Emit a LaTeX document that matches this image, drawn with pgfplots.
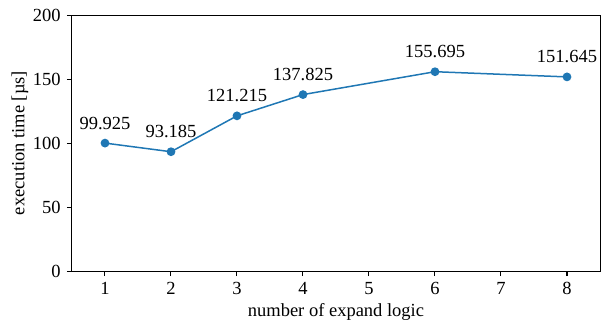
\documentclass[border=0pt]{standalone}
\usepackage{pgfplots}
\pgfplotsset{compat=1.18}
\usepackage{fontspec}
\setmainfont{Liberation Serif}
\definecolor{mplblue}{HTML}{1F77B4}
\begin{document}
\fontsize{18.5}{22}\selectfont
\begin{tikzpicture}
\path[use as bounding box] (-72pt,-51pt) rectangle (540pt,271pt);
\begin{axis}[
  at={(0pt,0pt)}, anchor=south west,
  scale only axis, width=528pt, height=256pt,
  xmin=0.5, xmax=8.5, ymin=0, ymax=200,
  xtick={1,2,3,4,5,6,7,8}, ytick={0,50,100,150,200},
  tick align=outside, major tick length=5pt,
  xtick pos=bottom, ytick pos=left,
  axis line style={black, line width=1pt},
  every tick/.style={black, line width=1pt},
  /pgf/number format/assume math mode=true,
  tick label style={font=\fontsize{18.5}{22}\selectfont},
  label style={font=\fontsize{18.5}{22}\selectfont},
  xlabel={number of expand logic},
  ylabel={execution time [µs]},
  xlabel style={yshift=4pt},
  ylabel style={yshift=-8pt},
]
\addplot[color=mplblue, line width=1.5pt, mark=*, mark size=3.6pt,
  mark options={fill=mplblue, draw=mplblue},
  point meta=explicit symbolic,
  nodes near coords,
  every node near coord/.style={anchor=south, inner sep=0pt, yshift=13pt, text=black, font=\fontsize{18.5}{22}\selectfont}]
table[meta=label] {
x y label
1 99.925 99.925
2 93.185 93.185
3 121.215 121.215
4 137.825 137.825
6 155.695 155.695
8 151.645 151.645
};
\end{axis}
\end{tikzpicture}
\end{document}
